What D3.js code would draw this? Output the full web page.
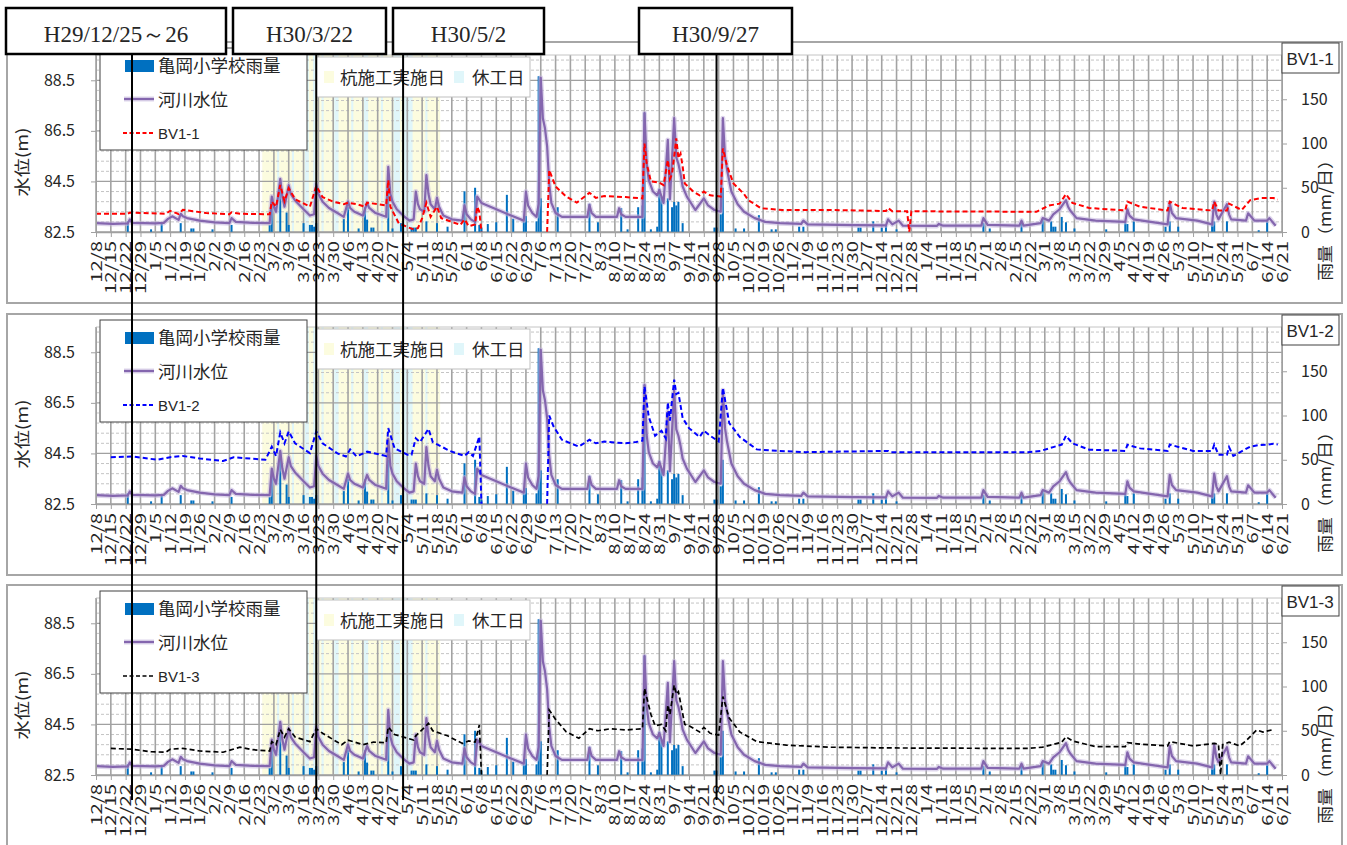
<!DOCTYPE html>
<html>
<head>
<meta charset="utf-8">
<script src="https://cdn.jsdelivr.net/npm/d3@7"></script>
<style>
body{margin:0;background:#fff;}
text{font-family:"Noto Sans CJK JP","Noto Sans",sans-serif;fill:#262626;}
</style>
</head>
<body>
<svg id="chart" width="1347" height="845"></svg>
<script>
// daily rainfall at Kameoka primary school (mm/day)
const rainData=[
["2017-12-23",12],["2018-01-03",3],["2018-01-08",10],["2018-01-17",10],["2018-01-22",4],["2018-01-23",4],
["2018-02-01",3],["2018-02-10",8],["2018-02-28",8],["2018-03-01",38],["2018-03-05",58],["2018-03-08",22],
["2018-03-09",8],["2018-03-16",10],["2018-03-19",8],["2018-03-20",8],["2018-03-21",6],["2018-03-22",10],
["2018-04-04",15],["2018-04-06",28],["2018-04-11",4],["2018-04-14",28],["2018-04-15",14],["2018-04-17",5],
["2018-04-18",5],["2018-04-25",50],["2018-04-27",4],["2018-05-01",10],["2018-05-06",5],["2018-05-07",5],
["2018-05-08",5],["2018-05-13",12],["2018-05-18",10],["2018-05-23",6],["2018-05-31",46],["2018-06-05",50],
["2018-06-07",8],["2018-06-08",5],["2018-06-11",9],["2018-06-15",11],["2018-06-20",42],["2018-06-23",15],
["2018-06-28",12],["2018-06-29",18],["2018-07-04",12],["2018-07-05",176],["2018-07-06",38],["2018-07-14",28],
["2018-07-29",32],["2018-08-02",11],["2018-08-13",27],["2018-08-16",3],["2018-08-21",28],["2018-08-23",30],
["2018-08-24",135],["2018-08-27",3],["2018-08-30",6],["2018-08-31",49],["2018-09-01",40],["2018-09-04",38],
["2018-09-06",28],["2018-09-07",34],["2018-09-08",30],["2018-09-09",34],["2018-09-11",10],["2018-09-26",5],
["2018-09-27",5],["2018-09-29",20],["2018-09-30",50],["2018-10-06",4],["2018-10-10",4],["2018-10-17",19],
["2018-10-23",3],["2018-10-25",3],["2018-11-05",6],["2018-11-07",6],["2018-12-03",5],["2018-12-04",5],
["2018-12-10",12],["2018-12-14",5],["2018-12-16",7],["2018-12-21",3],["2019-01-31",10],["2019-02-03",4],
["2019-02-18",10],["2019-02-28",15],["2019-03-04",12],["2019-03-05",6],["2019-03-06",6],["2019-03-09",17],
["2019-03-11",11],["2019-03-15",4],["2019-03-30",3],["2019-04-08",12],["2019-04-09",9],["2019-04-12",12],
["2019-04-27",6],["2019-04-29",12],["2019-05-03",6],["2019-05-19",9],["2019-05-20",12],["2019-05-26",12],
["2019-06-10",2],["2019-06-14",12]
];

// river water level (m)
const riverData=[
["2017-12-08",82.85],["2017-12-16",82.82],["2017-12-23",82.84],["2017-12-24",83.0],["2017-12-25",82.86],
["2018-01-05",82.84],["2018-01-09",82.86],["2018-01-11",83.02],["2018-01-13",83.12],["2018-01-16",82.98],
["2018-01-17",83.22],["2018-01-18",83.12],["2018-01-20",83.05],["2018-01-26",82.95],["2018-02-02",82.88],
["2018-02-09",82.85],["2018-02-10",83.05],["2018-02-12",82.9],["2018-02-20",82.86],["2018-02-28",82.85],
["2018-03-01",83.9],["2018-03-02",83.5],["2018-03-03",83.3],["2018-03-05",84.6],["2018-03-06",83.9],
["2018-03-07",83.5],["2018-03-09",84.35],["2018-03-10",84.0],["2018-03-12",83.75],["2018-03-16",83.4],
["2018-03-19",83.15],["2018-03-21",83.2],["2018-03-22",84.4],["2018-03-23",84.0],["2018-03-25",83.7],
["2018-03-28",83.45],["2018-04-01",83.25],["2018-04-04",83.1],["2018-04-06",83.7],["2018-04-07",83.45],
["2018-04-09",83.3],["2018-04-13",83.15],["2018-04-15",83.65],["2018-04-16",83.45],["2018-04-19",83.25],
["2018-04-24",83.1],["2018-04-25",85.08],["2018-04-26",84.0],["2018-04-27",83.7],["2018-04-29",83.4],
["2018-05-02",83.15],["2018-05-05",82.95],["2018-05-07",83.0],["2018-05-08",84.1],["2018-05-09",83.6],
["2018-05-10",83.4],["2018-05-12",83.3],["2018-05-13",84.75],["2018-05-14",84.0],["2018-05-15",83.6],
["2018-05-17",83.4],["2018-05-18",83.85],["2018-05-19",83.5],["2018-05-21",83.15],["2018-05-25",83.0],
["2018-05-30",82.95],["2018-05-31",83.55],["2018-06-01",83.2],["2018-06-03",83.0],["2018-06-05",82.9],
["2018-06-06",83.9],["2018-06-08",83.65],["2018-06-15",83.4],["2018-06-22",83.15],["2018-06-28",82.95],
["2018-06-29",84.1],["2018-06-30",83.55],["2018-07-02",83.25],["2018-07-04",83.1],["2018-07-05",83.6],
["2018-07-06",88.6],["2018-07-07",87.0],["2018-07-08",86.6],["2018-07-09",85.9],["2018-07-10",84.4],
["2018-07-11",83.65],["2018-07-13",83.25],["2018-07-16",83.1],["2018-07-28",83.1],["2018-07-29",83.57],
["2018-07-30",83.25],["2018-08-01",83.1],["2018-08-11",83.1],["2018-08-12",83.44],["2018-08-13",83.2],
["2018-08-15",83.1],["2018-08-23",83.1],["2018-08-24",87.2],["2018-08-25",85.23],["2018-08-26",84.55],
["2018-08-28",84.1],["2018-08-30",83.95],["2018-08-31",84.16],["2018-09-02",83.65],["2018-09-04",86.14],
["2018-09-05",83.8],["2018-09-06",85.4],["2018-09-07",87.0],["2018-09-08",85.45],["2018-09-09",85.2],
["2018-09-10",84.8],["2018-09-11",84.3],["2018-09-13",83.9],["2018-09-17",83.37],["2018-09-21",83.83],
["2018-09-23",83.55],["2018-09-26",83.37],["2018-09-29",83.3],["2018-09-30",87.0],["2018-10-01",85.5],
["2018-10-02",84.95],["2018-10-04",84.1],["2018-10-07",83.6],["2018-10-10",83.3],["2018-10-15",83.05],
["2018-10-20",82.9],["2018-10-27",82.85],["2018-11-06",82.82],["2018-11-07",82.95],["2018-11-09",82.8],
["2018-12-01",82.77],["2018-12-16",82.76],["2018-12-17",83.0],["2018-12-19",82.8],["2018-12-22",82.95],
["2018-12-24",82.75],["2019-01-09",82.74],["2019-01-10",82.82],["2019-01-12",82.75],["2019-01-30",82.75],
["2019-01-31",83.05],["2019-02-02",82.78],["2019-02-17",82.75],["2019-02-18",82.95],["2019-02-19",82.75],
["2019-02-27",82.85],["2019-02-28",83.05],["2019-03-03",82.95],["2019-03-05",83.2],["2019-03-08",83.4],
["2019-03-11",83.76],["2019-03-12",83.5],["2019-03-13",83.35],["2019-03-16",83.05],["2019-03-25",82.95],
["2019-04-08",82.9],["2019-04-09",83.4],["2019-04-10",83.15],["2019-04-12",83.0],["2019-04-28",82.8],
["2019-04-29",83.65],["2019-04-30",83.25],["2019-05-02",83.05],["2019-05-12",82.95],["2019-05-19",82.8],
["2019-05-20",83.7],["2019-05-21",83.2],["2019-05-22",83.0],["2019-05-26",83.6],["2019-05-27",83.2],
["2019-05-28",83.0],["2019-06-04",82.95],["2019-06-05",83.24],["2019-06-08",82.95],["2019-06-14",82.95],
["2019-06-15",83.05],["2019-06-18",82.75]
];

// groundwater level BV1-1 (m), null = no record
const bv11Data=[
["2017-12-08",83.22],["2017-12-23",83.22],["2017-12-24",83.27],["2018-01-10",83.22],["2018-01-12",83.34],
["2018-01-16",83.21],["2018-01-18",83.38],["2018-01-29",83.25],["2018-02-09",83.2],["2018-02-10",83.28],
["2018-02-14",83.22],["2018-02-28",83.2],["2018-03-01",83.7],["2018-03-03",83.5],["2018-03-05",84.36],
["2018-03-07",83.72],["2018-03-09",84.23],["2018-03-12",83.8],["2018-03-19",83.5],["2018-03-22",84.32],
["2018-03-25",83.88],["2018-03-30",83.7],["2018-04-04",83.6],["2018-04-06",83.66],["2018-04-10",83.6],
["2018-04-14",83.5],["2018-04-15",83.66],["2018-04-24",83.55],["2018-04-25",84.55],["2018-04-26",83.5],
["2018-04-30",82.84],["2018-05-04",82.7],["2018-05-07",82.6],["2018-05-09",82.65],["2018-05-11",83.05],
["2018-05-13",83.65],["2018-05-15",83.1],["2018-05-18",83.5],["2018-05-20",83.05],["2018-05-29",82.78],
["2018-05-31",83.0],["2018-06-02",82.73],["2018-06-05",82.8],["2018-06-06",83.5],["2018-06-07",83.3],
["2018-06-08",82.5],["2018-06-09",null],["2018-07-09",82.5],["2018-07-10",84.95],["2018-07-13",84.3],
["2018-07-18",83.9],["2018-07-23",83.66],["2018-07-29",84.05],["2018-08-01",83.85],["2018-08-05",83.92],
["2018-08-15",83.88],["2018-08-23",83.83],["2018-08-24",86.0],["2018-08-25",85.22],["2018-08-27",84.5],
["2018-08-31",84.45],["2018-09-02",84.35],["2018-09-04",85.35],["2018-09-05",84.6],["2018-09-06",84.8],
["2018-09-08",86.2],["2018-09-09",85.42],["2018-09-10",85.6],["2018-09-11",85.1],["2018-09-12",84.42],
["2018-09-16",84.1],["2018-09-19",83.95],["2018-09-21",84.1],["2018-09-24",83.95],["2018-09-29",83.9],
["2018-09-30",85.8],["2018-10-02",85.1],["2018-10-05",84.42],["2018-10-10",84.0],["2018-10-12",83.76],
["2018-10-18",83.44],["2018-10-28",83.37],["2018-11-20",83.37],["2018-12-16",83.33],["2018-12-17",83.45],
["2018-12-19",83.32],["2018-12-26",83.32],["2018-12-27",82.5],["2018-12-28",83.32],["2019-02-25",83.3],
["2019-03-03",83.55],["2019-03-08",83.62],["2019-03-11",84.0],["2019-03-14",83.65],["2019-03-22",83.45],
["2019-04-08",83.35],["2019-04-09",83.7],["2019-04-15",83.5],["2019-04-28",83.35],["2019-04-29",83.7],
["2019-05-05",83.45],["2019-05-19",83.35],["2019-05-20",83.7],["2019-05-22",83.35],["2019-05-26",83.35],
["2019-05-27",83.62],["2019-06-02",83.37],["2019-06-06",83.76],["2019-06-11",83.84],["2019-06-17",83.84],
["2019-06-19",83.78]
];

// groundwater level BV1-2 (m)
const bv12Data=[
["2017-12-15",84.35],["2017-12-25",84.38],["2018-01-06",84.25],["2018-01-12",84.35],["2018-01-18",84.4],
["2018-01-26",84.3],["2018-02-06",84.2],["2018-02-11",84.35],["2018-02-26",84.25],["2018-03-01",84.77],
["2018-03-03",84.4],["2018-03-05",85.33],["2018-03-07",84.9],["2018-03-09",85.37],["2018-03-12",84.9],
["2018-03-19",84.51],["2018-03-22",85.37],["2018-03-25",84.9],["2018-04-01",84.5],["2018-04-05",84.38],
["2018-04-07",84.66],["2018-04-10",84.38],["2018-04-15",84.57],["2018-04-24",84.4],["2018-04-25",85.5],
["2018-04-28",84.7],["2018-05-04",84.45],["2018-05-06",84.45],["2018-05-08",85.1],["2018-05-10",84.95],
["2018-05-14",85.47],["2018-05-16",84.95],["2018-05-24",84.6],["2018-05-31",84.4],["2018-06-02",84.55],
["2018-06-04",84.4],["2018-06-07",85.17],["2018-06-08",82.5],["2018-06-09",null],["2018-07-09",82.5],
["2018-07-10",86.0],["2018-07-12",85.57],["2018-07-16",85.04],["2018-07-24",84.77],["2018-07-29",85.04],
["2018-08-01",84.9],["2018-08-05",84.97],["2018-08-15",84.9],["2018-08-20",84.95],["2018-08-23",85.0],
["2018-08-24",87.15],["2018-08-26",85.95],["2018-08-29",85.2],["2018-09-01",85.4],["2018-09-03",85.1],
["2018-09-04",86.52],["2018-09-05",85.8],["2018-09-07",87.42],["2018-09-08",86.85],["2018-09-09",86.9],
["2018-09-11",85.9],["2018-09-14",85.5],["2018-09-19",85.15],["2018-09-21",85.4],["2018-09-24",85.2],
["2018-09-28",84.97],["2018-09-30",87.09],["2018-10-03",85.7],["2018-10-08",85.15],["2018-10-16",84.66],
["2018-10-26",84.6],["2018-11-08",84.55],["2018-12-17",84.6],["2018-12-18",84.55],["2019-02-21",84.55],
["2019-02-27",84.6],["2019-03-05",84.75],["2019-03-09",84.85],["2019-03-11",85.2],["2019-03-14",84.9],
["2019-03-22",84.65],["2019-04-08",84.6],["2019-04-09",84.84],["2019-04-15",84.7],["2019-04-28",84.6],
["2019-04-29",84.85],["2019-05-10",84.6],["2019-05-19",84.6],["2019-05-20",84.85],["2019-05-22",84.45],
["2019-05-26",84.45],["2019-05-27",84.75],["2019-05-29",84.4],["2019-06-06",84.77],["2019-06-10",84.83],
["2019-06-14",84.85],["2019-06-17",84.88],["2019-06-19",84.85]
];

// groundwater level BV1-3 (m)
const bv13Data=[
["2017-12-15",83.55],["2017-12-25",83.52],["2018-01-03",83.42],["2018-01-10",83.4],["2018-01-12",83.52],
["2018-01-18",83.55],["2018-01-26",83.45],["2018-02-06",83.4],["2018-02-14",83.6],["2018-02-20",83.5],
["2018-02-28",83.45],["2018-03-01",83.82],["2018-03-03",83.7],["2018-03-05",84.3],["2018-03-07",84.0],
["2018-03-09",84.33],["2018-03-12",84.0],["2018-03-19",83.82],["2018-03-22",84.33],["2018-03-25",84.15],
["2018-04-03",83.7],["2018-04-06",83.88],["2018-04-13",83.7],["2018-04-18",83.8],["2018-04-24",83.78],
["2018-04-25",84.4],["2018-04-28",84.1],["2018-05-07",83.88],["2018-05-08",84.05],["2018-05-14",84.54],
["2018-05-16",84.25],["2018-05-23",84.05],["2018-05-30",83.75],["2018-06-02",83.85],["2018-06-05",83.8],
["2018-06-07",84.48],["2018-06-08",82.5],["2018-06-09",null],["2018-07-09",82.5],["2018-07-10",85.07],
["2018-07-13",84.7],["2018-07-18",84.21],["2018-07-24",83.95],["2018-07-29",84.33],["2018-08-02",84.25],
["2018-08-08",84.33],["2018-08-15",84.28],["2018-08-23",84.33],["2018-08-24",85.93],["2018-08-27",84.9],
["2018-08-29",84.45],["2018-09-01",84.5],["2018-09-03",84.25],["2018-09-04",85.27],["2018-09-05",84.9],
["2018-09-07",86.06],["2018-09-08",85.7],["2018-09-09",85.8],["2018-09-12",84.5],["2018-09-14",84.45],
["2018-09-19",84.2],["2018-09-21",84.38],["2018-09-24",84.15],["2018-09-28",84.08],["2018-09-30",85.6],
["2018-10-03",84.75],["2018-10-08",84.2],["2018-10-16",83.82],["2018-10-30",83.68],["2018-11-20",83.6],
["2018-12-17",83.57],["2019-02-21",83.55],["2019-02-28",83.6],["2019-03-09",83.8],["2019-03-11",84.01],
["2019-03-14",83.85],["2019-03-25",83.62],["2019-04-08",83.62],["2019-04-09",83.78],["2019-04-15",83.72],
["2019-04-28",83.65],["2019-04-29",83.82],["2019-05-10",83.65],["2019-05-20",83.75],["2019-05-22",83.72],
["2019-05-23",82.5],["2019-05-24",83.7],["2019-05-27",83.8],["2019-06-01",83.65],["2019-06-04",83.85],
["2019-06-09",84.28],["2019-06-12",84.2],["2019-06-17",84.3]
];

// pile works period and rest days
const workPeriod=["2018-02-25","2018-05-19"];
const restDays=[
["2018-03-04","2018-03-04"],["2018-03-11","2018-03-11"],["2018-03-17","2018-03-18"],["2018-03-21","2018-03-21"],
["2018-03-25","2018-03-25"],["2018-03-31","2018-04-01"],["2018-04-08","2018-04-08"],["2018-04-14","2018-04-15"],
["2018-04-22","2018-04-22"],["2018-04-28","2018-04-30"],["2018-05-03","2018-05-06"],["2018-05-13","2018-05-13"]
];

// event markers
const markDates=["2017-12-25","2018-03-22","2018-05-02","2018-09-27"];
const markLabels=["H29/12/25～26","H30/3/22","H30/5/2","H30/9/27"];

const levelTicks=[82.5,84.5,86.5,88.5];
const levelMinor=[82.9,83.3,83.7,84.1,84.9,85.3,85.7,86.1,86.9,87.3,87.7,88.1,88.9,89.3];
const rainTicks=[0,50,100,150];

const panelNames=["BV1-1","BV1-2","BV1-3"];
const panelSeries=[bv11Data,bv12Data,bv13Data];
const panelColors=["#FF0000","#0000FF","#000000"];

//layout
const panelOffset=[0,272,543];
const plot={left:96,right:1282,top:55,bottom:232};
const markBoxes=[[6,226],[233,386],[393,544],[639,792]];

const parse=d3.utcParse("%Y-%m-%d");
const halfDay=12*3600*1000;
const svg=d3.select("#chart");

const x=d3.scaleUtc().domain([parse("2017-12-08"),parse("2019-06-21")]).range([plot.left,plot.right]);
const yLevel=d3.scaleLinear().domain([82.5,89.5]).range([plot.bottom,plot.top]);
const yRain=d3.scaleLinear().domain([0,200]).range([plot.bottom,plot.top]);
const weekTicks=d3.utcDay.range(parse("2017-12-08"),d3.utcDay.offset(parse("2019-06-21"),1),7);
const fmt=d3.utcFormat("%-m/%-d");

svg.append("defs").append("clipPath").attr("id","plotclip")
  .append("rect").attr("x",plot.left).attr("y",plot.top).attr("width",plot.right-plot.left).attr("height",plot.bottom-plot.top+1);

function lineOf(y){
  return d3.line().defined(d=>d[1]!=null).x(d=>x(parse(d[0]))).y(d=>y(d[1]));
}
function dayStart(s){return x(new Date(+parse(s)-halfDay));}
function dayEnd(s){return x(new Date(+parse(s)+halfDay));}

function drawPanel(p){
  const g=svg.append("g").attr("transform","translate(0,"+panelOffset[p]+")");
  //chart border
  g.append("rect").attr("x",7).attr("y",42).attr("width",1335).attr("height",261)
    .attr("fill","#fff").attr("stroke","#A6A6A6").attr("stroke-width",2);

  //construction shading
  g.append("rect").attr("x",dayStart(workPeriod[0])).attr("y",plot.top)
    .attr("width",dayEnd(workPeriod[1])-dayStart(workPeriod[0]))
    .attr("height",plot.bottom-plot.top).attr("fill","#FCFCDF");
  g.selectAll(".rest").data(restDays).enter().append("rect")
    .attr("x",d=>dayStart(d[0])).attr("y",plot.top)
    .attr("width",d=>dayEnd(d[1])-dayStart(d[0]))
    .attr("height",plot.bottom-plot.top).attr("fill","#E0F6FA");

  //grid
  g.selectAll(".hminor").data(levelMinor).enter().append("line")
    .attr("x1",plot.left).attr("x2",plot.right).attr("y1",d=>yLevel(d)).attr("y2",d=>yLevel(d))
    .attr("stroke","#C4C4C4").attr("stroke-dasharray","3,2");
  g.selectAll(".hmajor").data(levelTicks).enter().append("line")
    .attr("x1",plot.left).attr("x2",plot.right).attr("y1",d=>yLevel(d)).attr("y2",d=>yLevel(d))
    .attr("stroke","#A0A0A0").attr("stroke-width",1.3);
  g.selectAll(".vgrid").data(weekTicks).enter().append("line")
    .attr("x1",d=>x(d)).attr("x2",d=>x(d)).attr("y1",plot.top).attr("y2",plot.bottom)
    .attr("stroke","#A3A3A3").attr("stroke-width",1.6);
  g.append("line").attr("x1",plot.left).attr("x2",plot.right).attr("y1",plot.top).attr("y2",plot.top)
    .attr("stroke","#C4C4C4");

  //rain bars
  g.selectAll(".rain").data(rainData).enter().append("rect")
    .attr("x",d=>x(parse(d[0]))-1).attr("width",2)
    .attr("y",d=>yRain(d[1])).attr("height",d=>yRain(0)-yRain(d[1]))
    .attr("fill","#0070C0");

  //series
  const lines=g.append("g").attr("clip-path","url(#plotclip)");
  lines.append("path").datum(riverData).attr("d",lineOf(yLevel)).attr("fill","none")
    .attr("stroke","#C2B4DD").attr("stroke-width",5).attr("stroke-opacity",0.55).attr("stroke-linejoin","round");
  lines.append("path").datum(riverData).attr("d",lineOf(yLevel)).attr("fill","none")
    .attr("stroke","#8466AE").attr("stroke-width",2.2).attr("stroke-linejoin","round");
  lines.append("path").datum(panelSeries[p]).attr("d",lineOf(yLevel)).attr("fill","none")
    .attr("stroke",panelColors[p]).attr("stroke-width",p==2?1.7:2).attr("stroke-dasharray","5,3");

  //axes
  const ax=g.append("g").attr("transform","translate(0,"+plot.bottom+")")
    .call(d3.axisBottom(x).tickValues(weekTicks).tickFormat(fmt).tickSize(5).tickSizeOuter(0));
  ax.select(".domain").attr("stroke","#A0A0A0").attr("stroke-width",1.5);
  ax.selectAll(".tick line").attr("stroke","#A0A0A0");
  ax.selectAll(".tick text").attr("y",null).attr("dy","0.35em").attr("text-anchor","end")
    .attr("transform","translate(0,9) rotate(-90) scale(1.4,1)")
    .style("font-size","14.5px").style("font-family","'Noto Sans CJK JP',sans-serif").attr("fill","#262626");

  const ay=g.append("g").attr("transform","translate("+plot.left+",0)")
    .call(d3.axisLeft(yLevel).tickValues(levelTicks).tickFormat(d3.format(".1f")).tickSize(5).tickPadding(16).tickSizeOuter(0));
  ay.select(".domain").attr("stroke","#A0A0A0");
  ay.selectAll(".tick line").attr("stroke","#A0A0A0");
  ay.selectAll(".tick text").style("font-size","16px").attr("fill","#262626");

  const ar=g.append("g").attr("transform","translate("+plot.right+",0)")
    .call(d3.axisRight(yRain).tickValues(rainTicks).tickSize(5).tickPadding(14).tickSizeOuter(0));
  ar.select(".domain").attr("stroke","#A0A0A0");
  ar.selectAll(".tick line").attr("stroke","#A0A0A0");
  ar.selectAll(".tick text").style("font-size","16px").attr("fill","#262626");

  g.append("text").attr("transform","translate(22,162) rotate(-90) scale(1.2,1)")
    .attr("text-anchor","middle").attr("dy","0.35em").style("font-size","16px").text("水位(m)");
  g.append("text").attr("transform","translate(1325,216) rotate(-90) scale(1.12,1)")
    .attr("text-anchor","middle").attr("dy","0.35em").style("font-size","16px").text("雨量（mm/日）");

  //legend 1
  const l1=g.append("g");
  l1.append("rect").attr("x",100).attr("y",48).attr("width",207).attr("height",102)
    .attr("fill","#fff").attr("stroke","#404040");
  l1.append("rect").attr("x",125).attr("y",60).attr("width",29).attr("height",12).attr("fill","#0070C0");
  l1.append("text").attr("x",158).attr("y",66).attr("dy","0.35em").style("font-size","17.5px").text("亀岡小学校雨量");
  l1.append("line").attr("x1",124).attr("x2",154).attr("y1",99).attr("y2",99)
    .attr("stroke","#C2B4DD").attr("stroke-width",5).attr("stroke-opacity",0.55);
  l1.append("line").attr("x1",124).attr("x2",154).attr("y1",99).attr("y2",99)
    .attr("stroke","#8466AE").attr("stroke-width",2.2);
  l1.append("text").attr("x",158).attr("y",100).attr("dy","0.35em").style("font-size","17.5px").text("河川水位");
  l1.append("line").attr("x1",123).attr("x2",154).attr("y1",133).attr("y2",133)
    .attr("stroke",panelColors[p]).attr("stroke-width",p==2?1.7:2).attr("stroke-dasharray","4,2.5");
  l1.append("text").attr("x",158).attr("y",134).attr("dy","0.35em").style("font-size","15px")
    .style("font-family","'Liberation Sans',sans-serif").text(panelNames[p]);

  //legend 2
  const l2=g.append("g");
  l2.append("rect").attr("x",316).attr("y",57).attr("width",214).attr("height",40)
    .attr("fill","#fff").attr("stroke","#BFBFBF");
  l2.append("rect").attr("x",324).attr("y",71).attr("width",10).attr("height",12).attr("fill","#FCFCDF");
  l2.append("text").attr("x",340).attr("y",78).attr("dy","0.35em").style("font-size","17.5px").text("杭施工実施日");
  l2.append("rect").attr("x",454).attr("y",71).attr("width",10).attr("height",12).attr("fill","#E0F6FA");
  l2.append("text").attr("x",472).attr("y",78).attr("dy","0.35em").style("font-size","17.5px").text("休工日");

  //well name box
  g.append("rect").attr("x",1282).attr("y",43).attr("width",57).attr("height",30)
    .attr("fill","#fff").attr("stroke","#404040");
  g.append("text").attr("x",1310).attr("y",59).attr("dy","0.35em").attr("text-anchor","middle")
    .style("font-size","17px").style("font-family","'Liberation Sans',sans-serif").text(panelNames[p]);
}

panelNames.forEach((n,i)=>drawPanel(i));

//event lines through all panels
svg.selectAll(".mark").data(markDates).enter().append("line")
  .attr("x1",d=>x(parse(d))).attr("x2",d=>x(parse(d))).attr("y1",53).attr("y2",800)
  .attr("stroke","#000").attr("stroke-width",2);

const boxes=svg.selectAll(".mbox").data(markLabels).enter().append("g");
boxes.append("rect").attr("x",(d,i)=>markBoxes[i][0]).attr("y",8)
  .attr("width",(d,i)=>markBoxes[i][1]-markBoxes[i][0]).attr("height",46)
  .attr("fill","#fff").attr("stroke","#000").attr("stroke-width",2.5);
boxes.append("text").attr("x",(d,i)=>(markBoxes[i][0]+markBoxes[i][1])/2).attr("y",42)
  .attr("text-anchor","middle").style("font-family","'Liberation Serif','DejaVu Serif',serif")
  .style("font-size","23px").attr("fill","#222").text(d=>d);
</script>
</body>
</html>
